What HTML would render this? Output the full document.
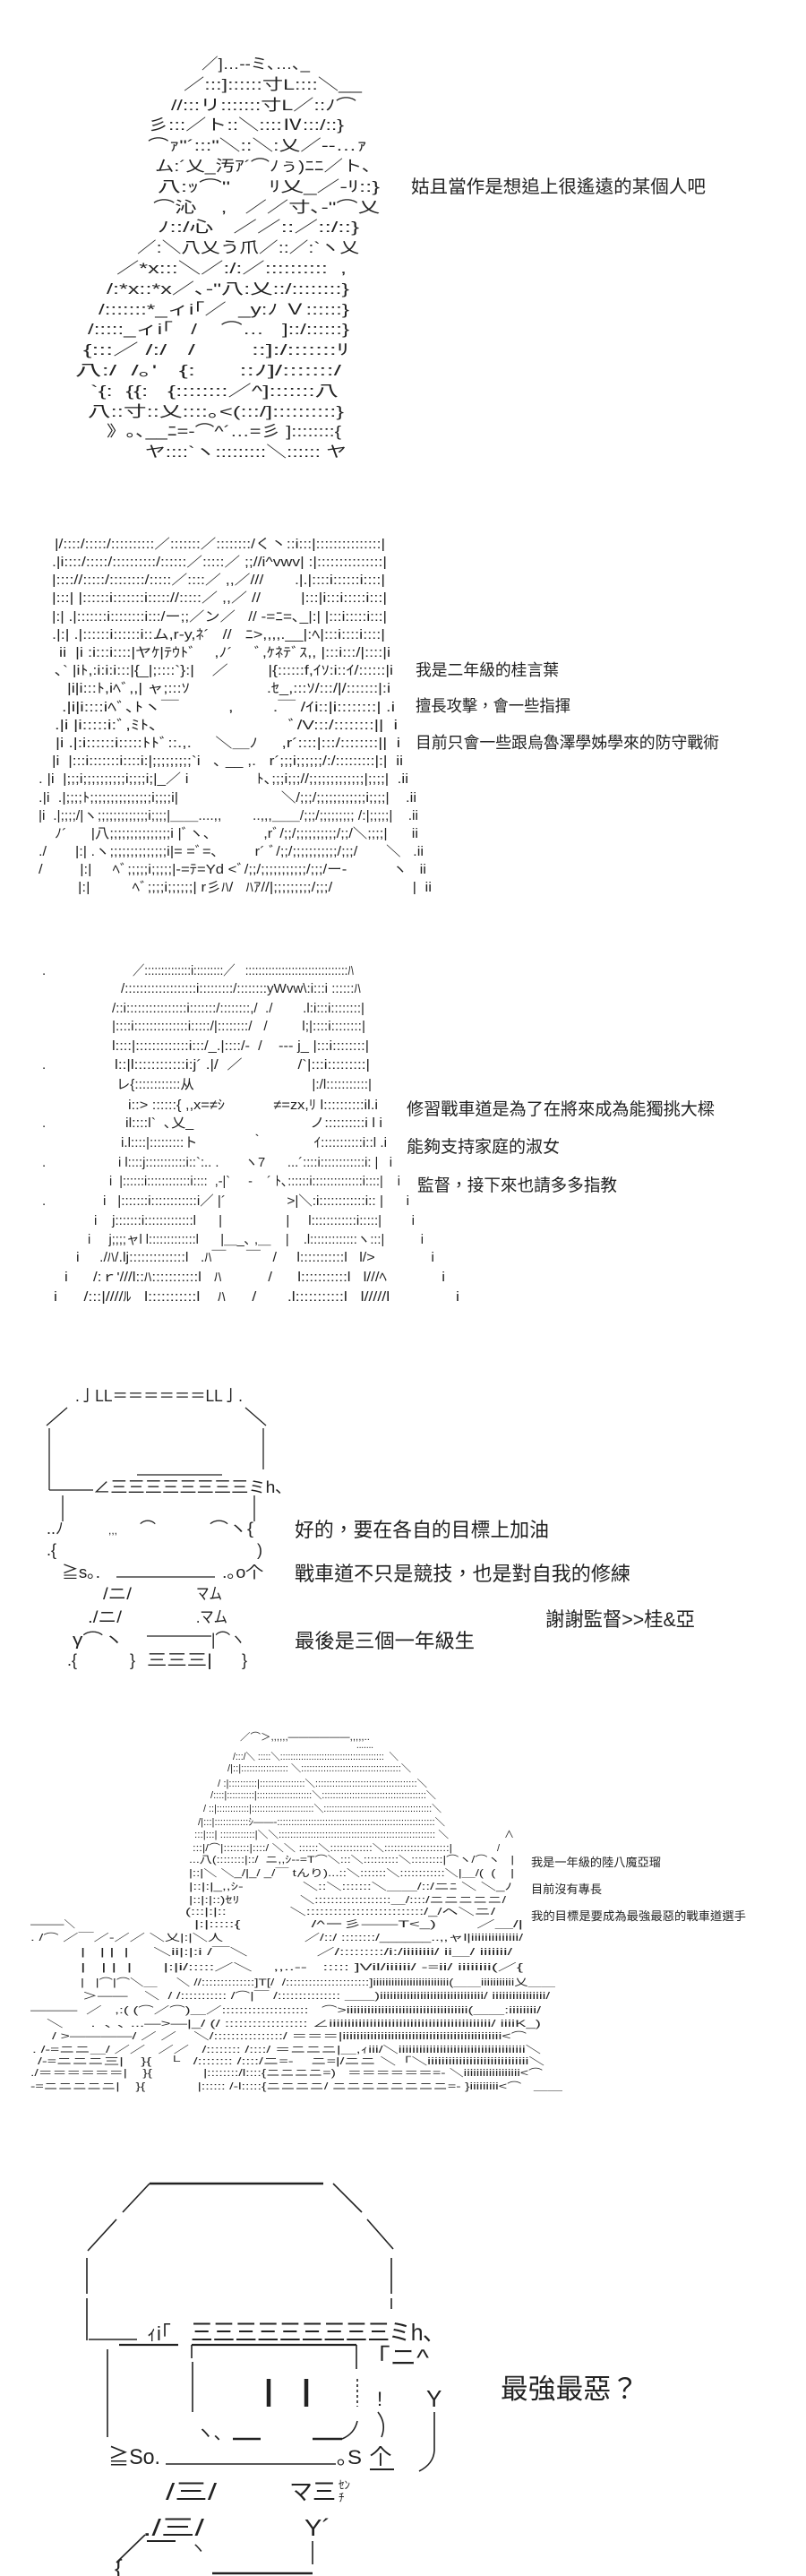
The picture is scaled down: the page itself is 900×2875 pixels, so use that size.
<!DOCTYPE html>
<html><head><meta charset="utf-8"><style>
html,body{margin:0;padding:0;background:#fff;}
svg{display:block}
text{font-family:"Liberation Sans","Noto Sans CJK JP",sans-serif;fill:#222;white-space:pre}
.m{font-family:"Liberation Sans","Noto Sans CJK TC",sans-serif;fill:#222}
</style></head><body>
<svg width="900" height="2875" viewBox="0 0 900 2875" xmlns="http://www.w3.org/2000/svg" xml:space="preserve">
<rect width="900" height="2875" fill="#fff"/>
<!-- Panel 1 -->
<g font-size="17" lengthAdjust="spacingAndGlyphs">
<text x="225" y="77" textLength="121" lengthAdjust="spacingAndGlyphs">／]…-‐ミ､…､_</text>
<text x="205" y="100" textLength="199" lengthAdjust="spacingAndGlyphs">／:::]::::::寸L::::＼__</text>
<text x="191" y="123" textLength="207" lengthAdjust="spacingAndGlyphs">//:::リ:::::::寸L／::ﾉ⌒</text>
<text x="165" y="145" textLength="219" lengthAdjust="spacingAndGlyphs">彡:::／ト::＼::::Ⅳ:::/::}</text>
<text x="165" y="168" textLength="245" lengthAdjust="spacingAndGlyphs">⌒ｧ"´:::"＼::＼:乂／‐-…ｧ</text>
<text x="173" y="191" textLength="242" lengthAdjust="spacingAndGlyphs">ム:´乂_汚ｱ´⌒ﾉぅ)ﾆﾆ／ト､</text>
<text x="176" y="214" textLength="248" lengthAdjust="spacingAndGlyphs">八:ｯ⌒"      ﾘ乂_／-ﾘ::}</text>
<text x="171" y="237" textLength="253" lengthAdjust="spacingAndGlyphs">⌒沁    ,   ／／寸､-"⌒乂</text>
<text x="176" y="259" textLength="225" lengthAdjust="spacingAndGlyphs">ﾉ::/心   ／／::／::/::}</text>
<text x="153" y="282" textLength="248" lengthAdjust="spacingAndGlyphs">／:＼八乂う爪／::／:`ヽ乂</text>
<text x="130" y="305" textLength="257" lengthAdjust="spacingAndGlyphs">／*x:::＼／:/:／::::::::::  ,</text>
<text x="119" y="328" textLength="271" lengthAdjust="spacingAndGlyphs">/:*x::*x／､-"八:乂::/::::::::}</text>
<text x="110" y="351" textLength="280" lengthAdjust="spacingAndGlyphs">/:::::::*_ィi｢／  _y:ﾉ Ｖ::::::}</text>
<text x="98" y="373" textLength="292" lengthAdjust="spacingAndGlyphs">/:::::_ィi｢   /    ⌒…   ]::/::::::}</text>
<text x="93" y="396" textLength="297" lengthAdjust="spacingAndGlyphs">{:::／ /:/   /        ::]:/:::::::ﾘ</text>
<text x="84" y="419" textLength="297" lengthAdjust="spacingAndGlyphs">八:/  /｡'   {:      ::ﾉ]/:::::::/</text>
<text x="101" y="442" textLength="277" lengthAdjust="spacingAndGlyphs">`{:  {{:   {::::::::／^]:::::::八</text>
<text x="98" y="465" textLength="286" lengthAdjust="spacingAndGlyphs">八::寸::乂::::｡&lt;(:::/]::::::::::}</text>
<text x="119" y="487" textLength="262" lengthAdjust="spacingAndGlyphs">》｡､__ﾆ=-⌒^´…=彡 ]::::::::{</text>
<text x="162" y="510" textLength="225" lengthAdjust="spacingAndGlyphs">ヤ::::`ヽ:::::::::＼:::::: ヤ</text>
</g>
<text class="m" x="459" y="215" font-size="20" textLength="329" lengthAdjust="spacingAndGlyphs">姑且當作是想追上很遙遠的某個人吧</text>

<!-- Panel 2 -->
<g font-size="15">
<text x="61" y="612" textLength="369" lengthAdjust="spacingAndGlyphs">|/::::/:::::/::::::::::／:::::::／::::::::/く丶::i:::|:::::::::::::::|</text>
<text x="58" y="632" textLength="374" lengthAdjust="spacingAndGlyphs">.|i::::/:::::/::::::::::/::::::／:::::／ ;;//i^vwv| :|:::::::::::::::|</text>
<text x="58" y="652" textLength="372" lengthAdjust="spacingAndGlyphs">|:::://:::::/::::::::/:::::／::::／ ,,／///       .|.|::::i::::::i::::|</text>
<text x="58" y="672" textLength="374" lengthAdjust="spacingAndGlyphs">|:::| |::::::i:::::::i::::://:::::／ ,,／ //         |:::|i:::i:::::i:::|</text>
<text x="58" y="693" textLength="374" lengthAdjust="spacingAndGlyphs">|:| .|:::::::i::::::::i:::/ー;;／ン／   // -=ﾆ=､_|:| |:::i:::::i:::|</text>
<text x="58" y="713" textLength="372" lengthAdjust="spacingAndGlyphs">.|:| .|::::::i::::::i::ム,r-y,ﾈ´   //   ﾆ&gt;,,,,.__|:ﾍ|:::i::::i::::|</text>
<text x="61" y="733" textLength="375" lengthAdjust="spacingAndGlyphs"> ii  |i :i:::i::::|ヤｹ|ﾃｳﾄﾞ    ,ﾉ´     ﾞ,ｹﾈﾃﾞｽ,, |:::i:::/|::::|i</text>
<text x="61" y="753" textLength="378" lengthAdjust="spacingAndGlyphs">､` |iﾄ,:i:i:i:::|{_|;::::`}:|    ／         |{::::::f,ｲｿ:i::ｲ/::::::|i</text>
<text x="75" y="773" textLength="361" lengthAdjust="spacingAndGlyphs">|i|i:::ﾄ,iﾍﾞ,,| ャ;:::ｿ                 .ｾ_,:::ｿ/:::/|/:::::::|:i</text>
<text x="69" y="794" textLength="372" lengthAdjust="spacingAndGlyphs">.|i|i::::iﾍﾞ､ﾄヽ￣          ,        .￣ /ｲi::|i::::::::| .i</text>
<text x="61" y="814" textLength="383" lengthAdjust="spacingAndGlyphs">.|i |i:::::i:ﾞ,ﾐﾄ､                          ﾞ/V:::/::::::::||  i</text>
<text x="62" y="834" textLength="385" lengthAdjust="spacingAndGlyphs">|i .|:i::::::i:::::ﾄﾄﾞ::.,.     ＼＿ﾉ     ,r´::::|:::/::::::::||  i</text>
<text x="58" y="854" textLength="392" lengthAdjust="spacingAndGlyphs">|i  |:::i:::::::i::::i:|;;;;;;;;;`i   ､ __ ,.   r´;;;i;;;;;;/:/:::::::::|:|  ii</text>
<text x="43" y="874" textLength="413" lengthAdjust="spacingAndGlyphs">. |i  |;;;i;;;;;;;;;;i;;;;i;|_／ i                ﾄ､;;;i;;;//;;;;;;;;;;;;;|;;;;|  .ii</text>
<text x="43" y="895" textLength="422" lengthAdjust="spacingAndGlyphs">.|i  .|;;;;ﾄ;;;;;;;;;;;;;;;i;;;;i|                         ＼/;;;/;;;;;;;;;;;;i;;;;|    .ii</text>
<text x="43" y="915" textLength="424" lengthAdjust="spacingAndGlyphs">|i  .|;;;;/|ヽ;;;;;;;;;;;;;i;;;;|＿＿....,,        ..,,,＿＿/;;;/;;;;;;;;; /:|;;;;;|    .ii</text>
<text x="61" y="935" textLength="406" lengthAdjust="spacingAndGlyphs">ﾉ´      |八;;;;;;;;;;;;;;;i |ﾞヽ､             ,rﾞ/;;/;;;;;;;;;;/;;/＼;;;;|      ii</text>
<text x="43" y="955" textLength="430" lengthAdjust="spacingAndGlyphs">./       |:| .ヽ;;;;;;;;;;;;;;i|= =ﾞ=､         r´ ﾞ/;;/;;;;;;;;;;;/;;;/       ＼   .ii</text>
<text x="43" y="975" textLength="433" lengthAdjust="spacingAndGlyphs">/         |:|     ﾍﾞ;;;;;i;;;;;|-=ﾃ=Yd &lt;ﾞ/;;/;;;;;;;;;;;/;;;/ー-           ヽ   ii</text>
<text x="87" y="995" textLength="395" lengthAdjust="spacingAndGlyphs">|:|          ﾍﾞ;;;;i;;;;;;| r彡ﾊ/   ﾊｱ//|;;;;;;;;;/;;;/                   |  ii</text>
</g>
<g class="m" font-size="18">
<text class="m" x="464" y="754" textLength="160" lengthAdjust="spacingAndGlyphs">我是二年級的桂言葉</text>
<text class="m" x="464" y="794" textLength="173" lengthAdjust="spacingAndGlyphs">擅長攻擊，會一些指揮</text>
<text class="m" x="464" y="835" textLength="339" lengthAdjust="spacingAndGlyphs">目前只會一些跟烏魯澤學姊學來的防守戰術</text>
</g>

<!-- Panel 3 -->
<g font-size="15">
<text x="47" y="1088">.</text><text x="47" y="1193">.</text><text x="47" y="1258">.</text><text x="47" y="1302">.</text><text x="47" y="1345">.</text>
<text x="148" y="1088" textLength="247" lengthAdjust="spacingAndGlyphs">／::::::::::::::i:::::::::／   :::::::::::::::::::::::::::::::ﾊ</text>
<text x="135" y="1108" textLength="268" lengthAdjust="spacingAndGlyphs">/:::::::::::::::::::i:::::::::/::::::::yWvw\:i:::i ::::::ﾊ</text>
<text x="125" y="1130" textLength="282" lengthAdjust="spacingAndGlyphs">/::i::::::::::::::::i:::::::/::::::::,/  ./        .l:i:::i::::::::|</text>
<text x="125" y="1150" textLength="283" lengthAdjust="spacingAndGlyphs">|::::i::::::::::::::i:::::/|::::::::/   /         l;|::::i::::::::|</text>
<text x="125" y="1172" textLength="287" lengthAdjust="spacingAndGlyphs">l::::|:::::::::::::i:::/_.|::::/-  /    --‐ j_ |:::i::::::::|</text>
<text x="128" y="1193" textLength="285" lengthAdjust="spacingAndGlyphs">l::|l::::::::::::i:j´ .|/  ／             /`|:::i:::::::::|</text>
<text x="130" y="1215" textLength="285" lengthAdjust="spacingAndGlyphs">レ{::::::::::::从                               |:/l:::::::::::|</text>
<text x="143" y="1238" textLength="279" lengthAdjust="spacingAndGlyphs">i::&gt; ::::::{ ,,x=≠ｼ            ≠=zx,ﾘ l::::::::::il.i</text>
<text x="140" y="1258" textLength="287" lengthAdjust="spacingAndGlyphs">il::::l`  ､乂_                             ノ::::::::::i l i</text>
<text x="135" y="1280" textLength="297" lengthAdjust="spacingAndGlyphs">i.l::::|:::::::::ト              ｀             ｲ:::::::::::i::l .i</text>
<text x="132" y="1302" textLength="306" lengthAdjust="spacingAndGlyphs">i l::::j:::::::::::i::`:.. .       ヽ7      ...´::::i::::::::::::i: |   i</text>
<text x="122" y="1323" textLength="325" lengthAdjust="spacingAndGlyphs">i  |::::::i::::::::::::i::::  ,-|`     -    ´ ﾄ､::::::i::::::::::::::i::::|    i</text>
<text x="115" y="1345" textLength="342" lengthAdjust="spacingAndGlyphs">i   |:::::::i::::::::::::i／ |´                >|＼:i::::::::::::i:: |      i</text>
<text x="105" y="1367" textLength="358" lengthAdjust="spacingAndGlyphs">i    j:::::::i:::::::::::::l      |                 |     l::::::::::::i:::::|        i</text>
<text x="98" y="1388" textLength="375" lengthAdjust="spacingAndGlyphs">i     j;;;;ャl l:::::::::::::l      |＿_､ ,＿    |    .l:::::::::::::ヽ:::|          i</text>
<text x="85" y="1408" textLength="400" lengthAdjust="spacingAndGlyphs">i     ./ﾊ/.lj::::::::::::::l   .ﾊ￣     ￣   /     l:::::::::::l   l/&gt;              i</text>
<text x="72" y="1430" textLength="425" lengthAdjust="spacingAndGlyphs">i      /:ｒ'///l::ﾊ:::::::::::l   ﾊ           /      l:::::::::::l   l///ﾍ             i</text>
<text x="60" y="1452" textLength="453" lengthAdjust="spacingAndGlyphs">i      /:::|////ﾙ   l:::::::::::l    ﾊ      /       .l:::::::::::l   l/////l               i</text>
</g>
<g font-size="19">
<text class="m" x="454" y="1244" textLength="344" lengthAdjust="spacingAndGlyphs">修習戰車道是為了在將來成為能獨挑大樑</text>
<text class="m" x="454" y="1286" textLength="171" lengthAdjust="spacingAndGlyphs">能夠支持家庭的淑女</text>
<text class="m" x="466" y="1329" textLength="223" lengthAdjust="spacingAndGlyphs">監督，接下來也請多多指教</text>
</g>

<!-- Panel 4 -->
<g font-size="18">
<text x="84" y="1564" textLength="187" lengthAdjust="spacingAndGlyphs">.亅LL＝＝＝＝＝＝LL亅.</text>
<text x="104" y="1666" textLength="213" lengthAdjust="spacingAndGlyphs">∠三三三三三三三三ミh､</text>
<text x="52" y="1712">..ﾉ</text><text x="121" y="1712" font-size="12">,,,</text>
<text x="156" y="1712">⌒</text><text x="234" y="1712" textLength="49" lengthAdjust="spacingAndGlyphs">⌒ヽ{</text>
<text x="52" y="1736">.{</text><text x="287" y="1736">)</text>
<text x="69" y="1761" textLength="43" lengthAdjust="spacingAndGlyphs">≧s｡.</text>
<text x="248" y="1761" textLength="46" lengthAdjust="spacingAndGlyphs">.｡o个</text>
<text x="115" y="1785" textLength="32" lengthAdjust="spacingAndGlyphs">/ニ/</text><text x="219" y="1785" textLength="29" lengthAdjust="spacingAndGlyphs">マム</text>
<text x="98" y="1811" textLength="38" lengthAdjust="spacingAndGlyphs">./ニ/</text><text x="219" y="1811" textLength="35" lengthAdjust="spacingAndGlyphs">.マム</text>
<text x="81" y="1836" textLength="57" lengthAdjust="spacingAndGlyphs">γ⌒ヽ</text>
<text x="236" y="1836" textLength="38" lengthAdjust="spacingAndGlyphs">|⌒ヽ</text>
<text x="75" y="1859">.{</text><text x="145" y="1859">}</text>
<text x="164" y="1859" textLength="73" lengthAdjust="spacingAndGlyphs">三三三|</text><text x="270" y="1859">}</text>
</g>
<g stroke="#222" stroke-width="1.3" fill="none">
<line x1="52" y1="1591" x2="75" y2="1571"/><line x1="274" y1="1571" x2="297" y2="1591"/>
<line x1="55" y1="1594" x2="55" y2="1663"/><line x1="294" y1="1594" x2="294" y2="1640"/>
<line x1="153" y1="1646" x2="248" y2="1646"/><line x1="55" y1="1663" x2="104" y2="1663"/>
<line x1="70" y1="1669" x2="70" y2="1698"/><line x1="284" y1="1669" x2="284" y2="1698"/>
<line x1="130" y1="1760" x2="240" y2="1760"/><line x1="164" y1="1826" x2="236" y2="1826"/>
</g>
<g font-size="22">
<text class="m" x="329" y="1715" textLength="284" lengthAdjust="spacingAndGlyphs">好的，要在各自的目標上加油</text>
<text class="m" x="329" y="1764" textLength="375" lengthAdjust="spacingAndGlyphs">戰車道不只是競技，也是對自我的修練</text>
<text class="m" x="609" y="1815" textLength="167" lengthAdjust="spacingAndGlyphs">謝謝監督&gt;&gt;桂&amp;亞</text>
<text class="m" x="329" y="1839" textLength="201" lengthAdjust="spacingAndGlyphs">最後是三個一年級生</text>
</g>

<!-- Panel 5 -->
<g font-size="11">
<text x="268" y="1942" textLength="145" lengthAdjust="spacingAndGlyphs">／⌒＞,,,,,,――――――,,,,,..</text>
<text x="398" y="1951" textLength="19" lengthAdjust="spacingAndGlyphs">.......</text>
<text x="260" y="1964" textLength="185" lengthAdjust="spacingAndGlyphs">/:::/＼ :::::＼::::::::::::::::::::::::::::::::::::::::  ＼</text>
<text x="254" y="1977" textLength="205" lengthAdjust="spacingAndGlyphs">/|::|::::::::::::::::: ＼::::::::::::::::::::::::::::::::::::＼</text>
<text x="243" y="1994" textLength="234" lengthAdjust="spacingAndGlyphs">/ :|::::::::::|::::::::::::::::＼::::::::::::::::::::::::::::::::::::＼</text>
<text x="235" y="2007" textLength="252" lengthAdjust="spacingAndGlyphs">/::::|::::::::::|::::::::::::::::::::＼::::::::::::::::::::::::::::::::::::::＼</text>
<text x="227" y="2022" textLength="266" lengthAdjust="spacingAndGlyphs">/ ::|::::::::::::|:::::::::::::::::::::::＼::::::::::::::::::::::::::::::::::::::::＼</text>
<text x="221" y="2037" textLength="276" lengthAdjust="spacingAndGlyphs">/|:::|::::::::::::ｼ――-::::::::::::::::::::::::::::::::::::::::::::::::::::::::＼</text>
<text x="217" y="2051" textLength="284" lengthAdjust="spacingAndGlyphs">:::|:::| ::::::::::::|＼＼:::::::::::::::::::::::::::::::::::::::::::::::::::::: ＼</text>
<text x="563" y="2051">∧</text>
<text x="215" y="2066" textLength="290" lengthAdjust="spacingAndGlyphs">:::|/⌒|::::::::|::::/ ＼＼ ::::::＼:::::::::::::＼::::::::::::::::::::|</text>
<text x="555" y="2066">/</text>
<text x="211" y="2079" textLength="363" lengthAdjust="spacingAndGlyphs">...八(::::::::|::/  ニ,,ｼ--=T⌒＼:::＼::::::::::＼:::::::::|⌒ヽ/⌒ヽ   |</text>
<text x="211" y="2094" textLength="363" lengthAdjust="spacingAndGlyphs">|::|＼ ＼_/|_/ _/￣ tんり)...::＼:::::::＼::::::::::::＼|＿/(  (    |</text>
<text x="211" y="2109" textLength="361" lengthAdjust="spacingAndGlyphs">|::|:|_,,ｼ‐              ＼::＼:::::::＼＿＿/::/ニﾆ ＼ ＼_ﾉ</text>
<text x="211" y="2124" textLength="354" lengthAdjust="spacingAndGlyphs">|::|:|::)ｾﾘ               ＼:::::::::::::::::::＿/::::/ニニニニニ/</text>
<text x="207" y="2137" textLength="346" lengthAdjust="spacingAndGlyphs">(:::|:|::              ＼::::::::::::::::::::::::::/_/ヘ＼ニ/</text>
<text x="34" y="2151" textLength="50" lengthAdjust="spacingAndGlyphs">―――＼</text>
<text x="217" y="2151" textLength="367" lengthAdjust="spacingAndGlyphs">|:|:::::{              /^ー彡――T&lt;_)        ／＿/|</text>
<text x="34" y="2166" textLength="550" lengthAdjust="spacingAndGlyphs">. /⌒ ／￣／-／／ ＼乂|:|＼人                   ／/::/ ::::::::/______..,,ャl|iiiiiiiiiiiiii/</text>
<text x="90" y="2182" textLength="482" lengthAdjust="spacingAndGlyphs">|   | |  |     ＼ii|:|:i /￣＼              ／/:::::::::/i:/iiiiiiii/ ii＿/ iiiiiii/</text>
<text x="90" y="2199" textLength="494" lengthAdjust="spacingAndGlyphs">|   | |  |      |:|i/:::::／＼    ,,..--   ::::: ]Vil/iiiiii/ -=ii/ iiiiiiii(／{</text>
<text x="90" y="2216" textLength="530" lengthAdjust="spacingAndGlyphs">|   |⌒|⌒＼＿     ＼ //::::::::::::::]T[/  /::::::::::::::::::::::]iiiiiiiiiiiiiiiiiiiiiiiii(＿＿iiiiiiiiiii乂＿＿</text>
<text x="92" y="2231" textLength="522" lengthAdjust="spacingAndGlyphs">＞――    ＼  / /::::::::::: /⌒|￣ /::::::::::::::: ＿＿)iiiiiiiiiiiiiiiiiiiiiiiiiiiiiii/ iiiiiiiiiiiiiiii/</text>
<text x="34" y="2247" textLength="570" lengthAdjust="spacingAndGlyphs">―――  ／   ,:( (⌒／⌒)＿／::::::::::::::::::::   ⌒&gt;iiiiiiiiiiiiiiiiiiiiiiiiiiiiiiiiiii(＿＿:iiiiiiii/</text>
<text x="52" y="2262" textLength="552" lengthAdjust="spacingAndGlyphs">＼      .  ､ ､ ...―&gt;―|_/ (/ :::::::::::::::::: ∠iiiiiiiiiiiiiiiiiiiiiiiiiiiiiiiiiiiiiiiiiiii/ iiiiK_)</text>
<text x="58" y="2276" textLength="530" lengthAdjust="spacingAndGlyphs">/ &gt;――――/ ／ ／    ＼/::::::::::::::::/ ＝＝＝|iiiiiiiiiiiiiiiiiiiiiiiiiiiiiiiiiiiiiiiiiiiiii&lt;⌒</text>
<text x="36" y="2291" textLength="568" lengthAdjust="spacingAndGlyphs">. /-=ニニ＿/ ／／   ／／   /:::::::: /::::/ ＝ニニニ|＿,ｨiii/＼iiiiiiiiiiiiiiiiiiiiiiiiiiiiiiiiiiiii＼</text>
<text x="42" y="2304" textLength="566" lengthAdjust="spacingAndGlyphs">/-=ニニニ三|    }{    └   /:::::::: /::::/ニ=-    ニ=|/ニニ ＼「＼iiiiiiiiiiiiiiiiiiiiiiiiiiiii＼</text>
<text x="34" y="2317" textLength="572" lengthAdjust="spacingAndGlyphs">./＝＝＝＝＝＝|    }{             |::::::::/l::::{ニニニニ=)   ＝＝＝＝＝＝=- ＼iiiiiiiiiiiiiiiiii&lt;⌒</text>
<text x="34" y="2332" textLength="594" lengthAdjust="spacingAndGlyphs">-=ニニニニニ|    }{             |:::::: /-l:::::{ニニニニ/ ニニニニニニニニ=- }iiiiiiiii&lt;⌒   ＿＿</text>
</g>
<g font-size="13">
<text class="m" x="593" y="2083" textLength="145" lengthAdjust="spacingAndGlyphs">我是一年級的陸八魔亞瑠</text>
<text class="m" x="593" y="2113" textLength="79" lengthAdjust="spacingAndGlyphs">目前沒有專長</text>
<text class="m" x="593" y="2143" textLength="240" lengthAdjust="spacingAndGlyphs">我的目標是要成為最強最惡的戰車道選手</text>
</g>

<!-- Panel 6 -->
<g stroke="#222" stroke-width="1.6" fill="none">
<line x1="167" y1="2437" x2="361" y2="2437" stroke-width="2.5"/>
<line x1="167" y1="2437" x2="137" y2="2469"/><line x1="130" y1="2477" x2="98" y2="2512"/>
<line x1="372" y1="2437" x2="404" y2="2469"/><line x1="410" y1="2477" x2="439" y2="2510"/>
<line x1="97" y1="2520" x2="97" y2="2560"/><line x1="97" y1="2565" x2="97" y2="2612"/>
<line x1="437" y1="2520" x2="437" y2="2560"/><line x1="437" y1="2565" x2="437" y2="2577"/>
<line x1="99" y1="2611" x2="153" y2="2611"/>
<line x1="133" y1="2617" x2="199" y2="2617" stroke-width="2.2"/>
<line x1="214" y1="2617" x2="398" y2="2617" stroke-width="2.2"/>
<line x1="214" y1="2617" x2="214" y2="2632"/>
<line x1="398" y1="2617" x2="398" y2="2644"/>
<line x1="120" y1="2622" x2="120" y2="2720"/>
<line x1="215" y1="2636" x2="215" y2="2692"/>
<line x1="399" y1="2655" x2="399" y2="2686" stroke-dasharray="3 3"/>
<line x1="300" y1="2655" x2="300" y2="2686" stroke-width="4.5"/>
<line x1="342" y1="2655" x2="342" y2="2686" stroke-width="4.5"/>
<line x1="485" y1="2692" x2="485" y2="2735"/>
<line x1="260" y1="2722" x2="291" y2="2722" stroke-width="2.5"/>
<line x1="349" y1="2722" x2="382" y2="2722" stroke-width="2.5"/>
<path d="M382 2722 Q396 2716 399 2702"/>
<path d="M422 2692 Q432 2705 426 2720"/>
<path d="M485 2735 Q484 2750 468 2758"/>
<line x1="185" y1="2750" x2="375" y2="2750"/>
<line x1="413" y1="2756" x2="440" y2="2756" stroke-width="2"/>
<line x1="130" y1="2860" x2="162" y2="2829"/>
<line x1="164" y1="2836" x2="196" y2="2836" stroke-width="2"/>
<line x1="349" y1="2836" x2="349" y2="2862"/>
<line x1="237" y1="2872" x2="349" y2="2872" stroke-width="2.5"/>
</g>
<g font-size="26">
<text x="164" y="2612" font-size="22">ｨi｢</text>
<text x="213" y="2612" textLength="222" lengthAdjust="spacingAndGlyphs">三三三三三三三三三</text>
<text x="434" y="2612" textLength="51" lengthAdjust="spacingAndGlyphs">ミh､</text>
<text x="421" y="2640" textLength="58" lengthAdjust="spacingAndGlyphs">｢ニ^</text>
<text x="421" y="2685" font-size="22">!</text>
<text x="476" y="2686">Y</text>
<text x="219" y="2722" font-size="20">ヽ､</text>
<text x="413" y="2750" font-size="24">个</text>
<text x="121" y="2750" textLength="58" lengthAdjust="spacingAndGlyphs" font-size="24">≧So.</text>
<text x="376" y="2750" textLength="28" lengthAdjust="spacingAndGlyphs" font-size="22">｡S</text>
<text x="185" y="2790" textLength="57" lengthAdjust="spacingAndGlyphs">/三/</text>
<text x="323" y="2790" textLength="52" lengthAdjust="spacingAndGlyphs">マ三</text>
<text x="378" y="2778" font-size="13">ｾﾝ</text><text x="378" y="2792" font-size="13">ﾁ</text>
<text x="159" y="2830" textLength="69" lengthAdjust="spacingAndGlyphs">./三/</text>
<text x="340" y="2830" textLength="29" lengthAdjust="spacingAndGlyphs">Y´</text>
<text x="212" y="2850" font-size="18">ヽ</text>
<text x="128" y="2875">{</text>
</g>
<text class="m" x="559" y="2677" font-size="31" textLength="154" lengthAdjust="spacingAndGlyphs">最強最惡？</text>
</svg>
</body></html>
